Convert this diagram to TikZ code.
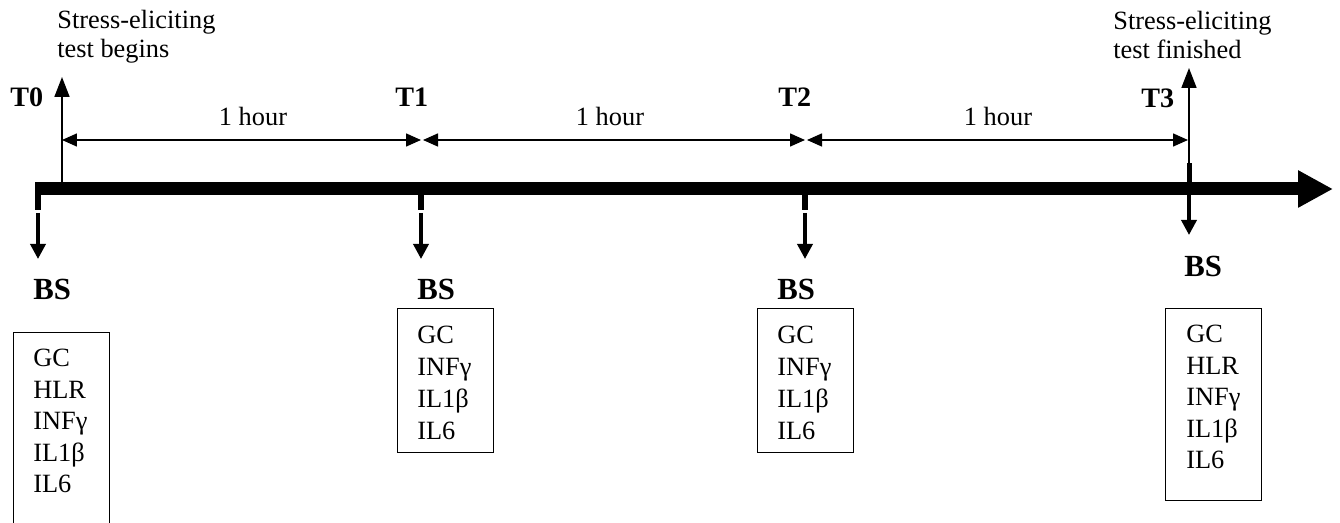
\documentclass[tikz,border=0pt]{standalone}
\usepackage{fontspec}
\setmainfont{Liberation Serif}
\usetikzlibrary{arrows.meta}
\begin{document}
\begin{tikzpicture}[x=0.02cm,y=-0.02cm,
  txt/.style={font=\fontsize{15}{18}\selectfont, inner sep=0pt, anchor=base west},
  tlbl/.style={font=\fontsize{16}{19}\selectfont\bfseries, inner sep=0pt, anchor=base west},
  bslbl/.style={font=\fontsize{17.5}{20}\selectfont\bfseries, inner sep=0pt, anchor=base west},
  hr/.style={font=\fontsize{15}{18}\selectfont, inner sep=0pt, anchor=base},
  bar/.style={line width=0.26cm, -{Triangle[length=0.7cm,width=0.7cm]}},
  tickmark/.style={line width=0.12cm},
  down/.style={line width=0.07cm, -{Triangle[length=0.3cm,width=0.3cm]}},
  up/.style={line width=0.035cm, -{Triangle[length=0.4cm,width=0.3cm]}},
  span/.style={line width=0.03cm, {Triangle[length=0.3cm,width=0.26cm]}-{Triangle[length=0.3cm,width=0.26cm]}},
  bsbox/.style={draw, line width=0.028cm, inner sep=0pt, anchor=north west, minimum width=1.92cm}
]
\clip (0,0) rectangle (1340,523);

% main time axis
\coordinate (bl) at (35,189);
\coordinate (br) at (1333,189);
\draw[bar] (bl) -- (br);

% blood-sampling ticks and arrows
\foreach \n/\x in {0/38,1/421,2/805} {
  \coordinate (ka\n) at (\x,189);
  \coordinate (kb\n) at (\x,210);
  \coordinate (kc\n) at (\x,213);
  \coordinate (kd\n) at (\x,259);
  \draw[tickmark] (ka\n) -- (kb\n);
  \draw[down] (kc\n) -- (kd\n);
}
\coordinate (ka3) at (1189,189);
\coordinate (kb3) at (1189,163);
\coordinate (kc3) at (1189,195);
\coordinate (kd3) at (1189,235);
\draw[line width=0.1cm] (ka3) -- (kb3);
\draw[down] (kc3) -- (kd3);

% start / end of stress test
\coordinate (u0a) at (62,183);
\coordinate (u0b) at (62,77);
\draw[up] (u0a) -- (u0b);
\coordinate (u3a) at (1189,183);
\coordinate (u3b) at (1189,68);
\draw[up] (u3a) -- (u3b);

% one-hour spans
\coordinate (s0) at (62,140);
\coordinate (s1a) at (421,140);
\coordinate (s1b) at (423,140);
\coordinate (s2a) at (805,140);
\coordinate (s2b) at (807,140);
\coordinate (s3) at (1188,140);
\draw[span] (s0) -- (s1a);
\draw[span] (s1b) -- (s2a);
\draw[span] (s2b) -- (s3);
\node[hr] (h1) at (253,126) {1 hour};
\node[hr] (h2) at (610,126) {1 hour};
\node[hr] (h3) at (998,126) {1 hour};

% time labels
\node[tlbl] (T0) at (10,107) {T0};
\node[tlbl] (T1) at (395,107) {T1};
\node[tlbl] (T2) at (778,107) {T2};
\node[tlbl] (T3) at (1141,108) {T3};

% stress test notes
\node[txt] (sb1) at (57,29) {Stress-eliciting};
\node[txt] (sb2) at (57,58) {test begins};
\node[txt] (sf1) at (1113,30) {Stress-eliciting};
\node[txt] (sf2) at (1113,59) {test finished};

% BS labels
\node[bslbl] (bs0) at (33,300) {BS};
\node[bslbl] (bs1) at (417,300) {BS};
\node[bslbl] (bs2) at (777,300) {BS};
\node[bslbl] (bs3) at (1184,277) {BS};

% boxes
\node[bsbox, minimum height=4.4cm] (box0) at (13,332) {};
\node[bsbox, minimum height=2.88cm] (box1) at (397,308) {};
\node[bsbox, minimum height=2.88cm] (box2) at (757,308) {};
\node[bsbox, minimum height=3.84cm] (box3) at (1165,308) {};

\foreach \t [count=\i from 0] in {GC,HLR,INFγ,IL1β,IL6}
  \node[txt] (a\i) at (33,367+31.5*\i) {\t};
\foreach \t [count=\i from 0] in {GC,INFγ,IL1β,IL6}
  \node[txt] (b\i) at (417,344+32*\i) {\t};
\foreach \t [count=\i from 0] in {GC,INFγ,IL1β,IL6}
  \node[txt] (c\i) at (777,344+32*\i) {\t};
\foreach \t [count=\i from 0] in {GC,HLR,INFγ,IL1β,IL6}
  \node[txt] (d\i) at (1186,343+31.5*\i) {\t};
\end{tikzpicture}
\end{document}
